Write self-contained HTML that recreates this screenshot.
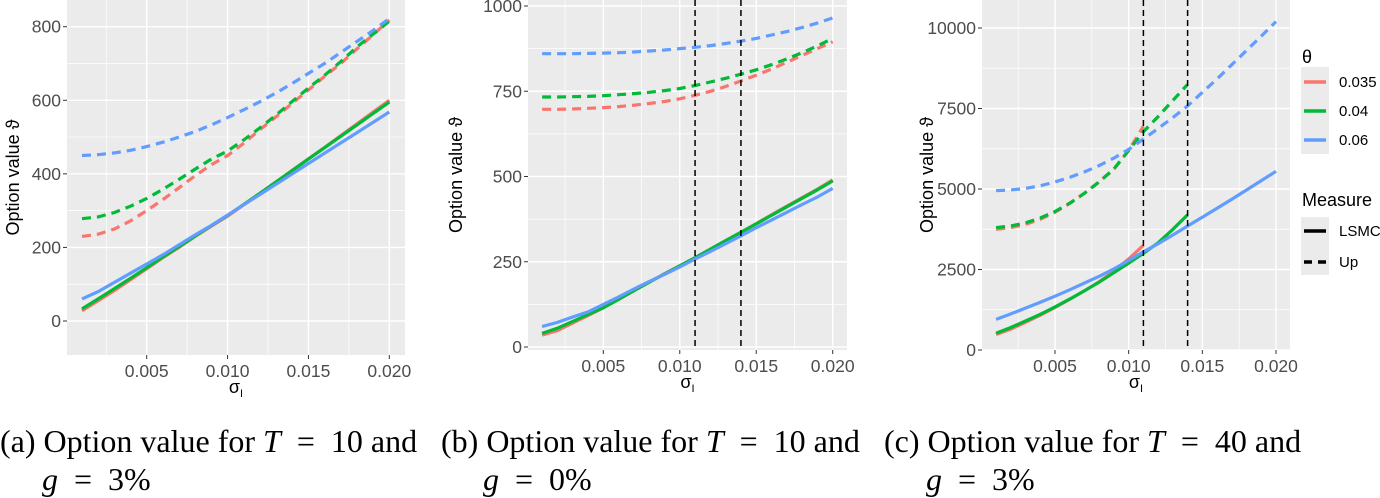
<!DOCTYPE html>
<html><head><meta charset="utf-8"><style>
body{margin:0;background:#fff;}
svg{display:block;}
.cap{font-family:"Liberation Serif",serif;font-size:32px;fill:#000;}
.tick{font-family:"Liberation Sans",sans-serif;font-size:17.5px;fill:#4d4d4d;}
.ttl{font-family:"Liberation Sans",sans-serif;font-size:18px;fill:#000;}
</style></head><body>
<svg id="chart" width="1380" height="498" xmlns="http://www.w3.org/2000/svg"></svg>
<script>
const xs=[0.001,0.002,0.003,0.004,0.005,0.006,0.007,0.008,0.009,0.010,0.011,0.012,0.013,0.014,0.015,0.016,0.017,0.018,0.019,0.020];
const thetaLabels=["0.035","0.04","0.06"];
const colors=["#F8766D","#00BA38","#619CFF"];
// panel a
const aUpRed=[230,236,250,272,300,330,362,395,425,450,483,520,555,592,628,665,700,740,778,818];
const aUpGreen=[278,283,295,312,333,358,385,413,440,462,492,525,560,597,633,668,705,745,780,815];
const aUpBlue=[450,452,457,464,474,486,500,515,533,553,574,596,620,646,673,700,730,760,790,822];
const aLsRed=[28,55,83,112,142,172,200,230,258,285,316,347,378,410,441,472,504,536,568,600];
const aLsGreen=[33,60,88,116,145,174,202,231,259,287,317,347,378,409,440,471,502,533,564,595];
const aLsBlue=[60,80,105,130,155,180,207,234,260,288,316,344,372,400,428,456,484,512,540,568];
const aYTicks=[0,200,400,600,800];
// panel b
const bUpRed=[697,697,698,700,702,705,709,714,720,728,738,750,764,780,797,815,835,855,875,895];
const bUpGreen=[733,733,734,735,737,740,743,747,752,758,767,777,788,800,813,828,845,863,883,905];
const bUpBlue=[860,860,860,861,862,863,865,868,871,875,879,884,890,897,905,915,925,937,950,965];
const bLsRed=[35,48,70,92,115,140,165,190,215,238,262,287,312,337,362,388,413,438,463,490];
const bLsGreen=[40,55,75,95,115,140,165,190,214,238,262,287,312,336,361,386,411,436,461,487];
const bLsBlue=[60,72,88,103,125,147,170,192,213,235,258,280,303,326,350,372,395,418,440,465];
const bYTicks=[0,250,500,750,1000];
// panel c (red ends at 0.011, green at 0.014)
const cUpRed=[3750,3800,3900,4060,4280,4550,4870,5230,5620,6200,6950];
const cUpGreen=[3800,3850,3950,4100,4300,4560,4870,5220,5620,6200,6780,7250,7750,8250];
const cUpBlue=[4950,4970,5020,5100,5220,5360,5530,5730,5960,6230,6550,6880,7220,7580,8000,8420,8860,9300,9750,10200];
const cLsRed=[480,650,860,1080,1320,1570,1840,2120,2450,2830,3250];
const cLsGreen=[520,700,900,1110,1340,1580,1840,2110,2400,2700,3000,3330,3750,4200];
const cLsBlue=[950,1120,1300,1480,1670,1870,2080,2290,2520,2780,3050,3300,3570,3850,4120,4400,4680,4970,5260,5550];
const cYTicks=[0,2500,5000,7500,10000];
const xTicks=[0.005,0.010,0.015,0.020];
const xTickLabels=["0.005","0.010","0.015","0.020"];
const vLines=[0.011,0.014];

const NS="http://www.w3.org/2000/svg";
const svg=document.getElementById('chart');
function mk(tag,attrs,parent){const e=document.createElementNS(NS,tag);for(const k in attrs)e.setAttribute(k,attrs[k]);(parent||svg).appendChild(e);return e;}

function panel(id,cfg){
  const g=mk('g',{});
  
  
  const X=v=>cfg.px0+(v-0.005)/(0.015)*(cfg.px1-cfg.px0);
  const Y=v=>cfg.py0+(v-cfg.yv0)/(cfg.yv1-cfg.yv0)*(cfg.py1-cfg.py0);
  const bg=mk('rect',{x:cfg.L,y:cfg.T,width:cfg.R-cfg.L,height:cfg.B-cfg.T,fill:'#EBEBEB'},g);
  
  
  const step=cfg.yTicks[1]-cfg.yTicks[0];
  for(let v=cfg.yTicks[0]-step/2;v<=cfg.yTicks[cfg.yTicks.length-1]+step;v+=step/2){
    const y=Y(v); if(y<cfg.T||y>cfg.B)continue;
    const major=cfg.yTicks.includes(v);
    mk('line',{x1:cfg.L,x2:cfg.R,y1:y,y2:y,stroke:'#fff','stroke-width':major?1.4:0.7},g);
  }
  for(let v=0.0025;v<=0.0205;v+=0.0025){
    const x=X(v); if(x<cfg.L||x>cfg.R)continue;
    const major=Math.abs((v/0.005)-Math.round(v/0.005))<1e-6;
    mk('line',{x1:x,x2:x,y1:cfg.T,y2:cfg.B,stroke:'#fff','stroke-width':major?1.4:0.7},g);
  }
  cfg.yTicks.forEach(v=>{
    const y=Y(v);
    mk('line',{x1:cfg.L-4,x2:cfg.L,y1:y,y2:y,stroke:'#333','stroke-width':1},g);
    const t=mk('text',{x:cfg.L-6,y:y+6,'text-anchor':'end',class:'tick'},g);t.textContent=v;
    
    
  });
  xTicks.forEach((v,i)=>{
    const x=X(v);
    mk('line',{x1:x,x2:x,y1:cfg.B,y2:cfg.B+4,stroke:'#333','stroke-width':1},g);
    const t=mk('text',{x:x,y:cfg.B+22,'text-anchor':'middle',class:'tick'},g);t.textContent=xTickLabels[i];
    
    
  });
  cfg.series.forEach(s=>{
    const d=s.vals.map((v,i)=>(i?'L':'M')+X(xs[i]).toFixed(1)+','+Y(v).toFixed(1)).join('');
    const p=mk('path',{d:d,fill:'none',stroke:colors[s.c],'stroke-width':3.2,'stroke-dasharray':s.dash?'9 6':'none'},g);
    
    
  });
  if(cfg.vlines) vLines.forEach(v=>{
    const l=mk('line',{x1:X(v),x2:X(v),y1:cfg.T,y2:cfg.B,stroke:'#000','stroke-width':1.5,'stroke-dasharray':'6 4'},g);
    
    
  });
  const xt=mk('text',{x:(cfg.L+cfg.R)/2,y:cfg.B+38,'text-anchor':'middle',class:'ttl'},g);
  xt.innerHTML='σ<tspan font-size="11" dy="4">I</tspan>';
  
  
  const yt=mk('text',{x:0,y:0,'text-anchor':'middle',class:'ttl',transform:`translate(${cfg.ylx},${(cfg.T+cfg.B)/2}) rotate(-90)`},g);
  yt.textContent='Option value ϑ';
  
  
}
panel('panel-a',{L:67,R:405,T:0,B:355,px0:146.7,px1:389.3,yv0:0,yv1:800,py0:321,py1:26.7,yTicks:aYTicks,ylx:19,
 series:[{vals:aUpRed,c:0,dash:1},{vals:aUpGreen,c:1,dash:1},{vals:aUpBlue,c:2,dash:1},{vals:aLsRed,c:0},{vals:aLsGreen,c:1},{vals:aLsBlue,c:2}]});
panel('panel-b',{L:528,R:847,T:0,B:350,px0:603.3,px1:832.7,yv0:0,yv1:1000,py0:347,py1:6,yTicks:bYTicks,ylx:462,vlines:1,
 series:[{vals:bUpRed,c:0,dash:1},{vals:bUpGreen,c:1,dash:1},{vals:bUpBlue,c:2,dash:1},{vals:bLsRed,c:0},{vals:bLsGreen,c:1},{vals:bLsBlue,c:2}]});
panel('panel-c',{L:982,R:1290,T:0,B:350,px0:1055,px1:1276,yv0:0,yv1:10000,py0:350,py1:28,yTicks:cYTicks,ylx:933,vlines:1,
 series:[{vals:cUpRed,c:0,dash:1},{vals:cUpGreen,c:1,dash:1},{vals:cUpBlue,c:2,dash:1},{vals:cLsRed,c:0},{vals:cLsGreen,c:1},{vals:cLsBlue,c:2}]});

// legend
const lg=mk('g',{});


let t=mk('text',{x:1302,y:63,class:'ttl'},lg);t.textContent='θ';
mk('rect',{x:1301,y:67,width:28,height:87,fill:'#EBEBEB'},lg);
thetaLabels.forEach((lab,i)=>{
  const y=82+i*29;
  const l=mk('line',{x1:1304,x2:1326,y1:y,y2:y,stroke:colors[i],'stroke-width':3.5},lg);
  
  
  const tx=mk('text',{x:1339,y:y+5,class:'tick',style:'fill:#000;font-size:15px'},lg);tx.textContent=lab;
  
  
});
t=mk('text',{x:1302,y:206,class:'ttl'},lg);t.textContent='Measure';
mk('rect',{x:1301,y:217,width:28,height:58,fill:'#EBEBEB'},lg);
[['LSMC','none',231],['Up','8 6',262]].forEach(a=>{
  const l=mk('line',{x1:1304,x2:1326,y1:a[2],y2:a[2],stroke:'#000','stroke-width':3.5,'stroke-dasharray':a[1]},lg);
  
  
  const tx=mk('text',{x:1339,y:a[2]+5,class:'tick',style:'fill:#000;font-size:15px'},lg);tx.textContent=a[0];
  
  
});

// captions
[[0,'a','10','3%'],[441,'b','10','0%'],[884,'c','40','3%']].forEach(c=>{
  const g=mk('g',{});
  
  
  const t1=mk('text',{x:c[0],y:452,class:'cap'},g);
  t1.innerHTML=`(${c[1]}) Option value for <tspan font-style="italic">T</tspan>  =  ${c[2]} and`;
  t1.setAttribute('xml:space','preserve');
  t1.style.whiteSpace='pre';
  const t2=mk('text',{x:c[0]+42,y:490,class:'cap'},g);
  t2.style.whiteSpace='pre';
  t2.innerHTML=`<tspan font-style="italic">g</tspan>  =  ${c[3]}`;
});
</script>
</body></html>
